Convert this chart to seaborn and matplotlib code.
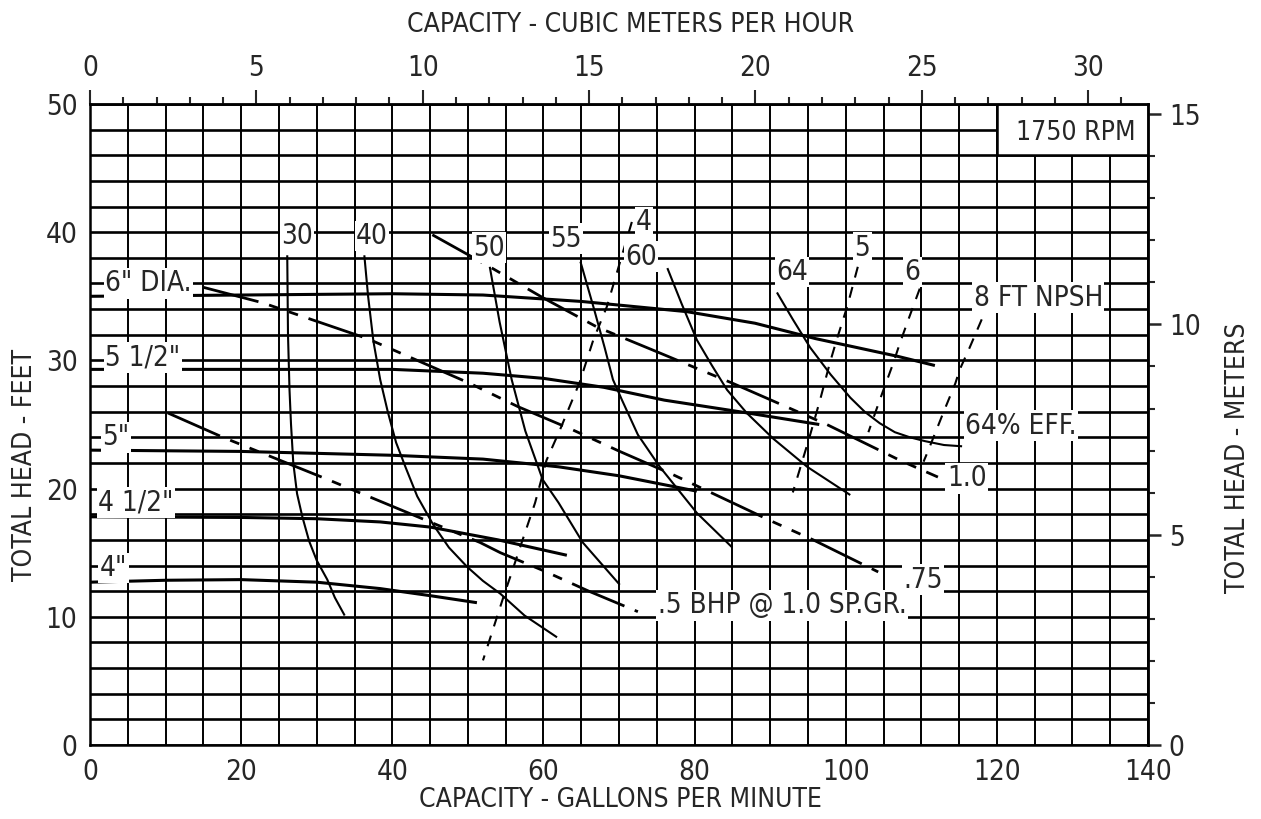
# -------------------------------------------
# импортирование библиотек
import numpy as np
import matplotlib
matplotlib.use('Agg')
import matplotlib.pyplot as plt
from matplotlib.patches import Rectangle
from matplotlib.ticker import MultipleLocator, FixedLocator
import seaborn as sns

# -------------------------------------------
# данные (подача, gpm / напор, ft)

# напорные характеристики по диаметру колеса
head_6_gpm = [0, 20, 40, 52, 65, 79, 88, 96, 107, 111.8]
head_6_ft = [35.0, 35.1, 35.2, 35.1, 34.6, 33.8, 32.9, 31.7, 30.3, 29.6]
head_55_gpm = [0, 20, 40, 52, 60, 68, 76, 87, 96.5]
head_55_ft = [29.3, 29.3, 29.3, 29.0, 28.6, 27.9, 26.9, 25.9, 25.0]
head_5_gpm = [0, 20, 40, 52, 62, 70, 80.3]
head_5_ft = [23.0, 22.9, 22.6, 22.3, 21.7, 21.0, 19.8]
head_45_gpm = [0, 20, 30, 38.4, 45, 54, 63.1]
head_45_ft = [17.8, 17.75, 17.65, 17.4, 17.0, 16.0, 14.8]
head_4_gpm = [0, 10, 20, 30, 38.4, 45, 51.2]
head_4_ft = [12.7, 12.85, 12.9, 12.7, 12.2, 11.65, 11.1]

# линии КПД
eff_30_gpm = [26.1, 26.2, 26.4, 26.6, 26.9, 27.4, 28.1, 29.0, 30.0, 31.4, 32.4, 33.7]
eff_30_ft = [38.2, 32.0, 27.7, 25.0, 22.0, 19.6, 17.8, 15.9, 14.4, 12.9, 11.5, 10.1]
eff_40_gpm = [36.3, 36.8, 37.5, 38.4, 39.4, 40.5, 41.8, 43.3, 45.4, 47.5, 49.9, 52.0, 54.3, 57.5, 61.8]
eff_40_ft = [38.2, 35.0, 31.5, 28.5, 26.0, 23.6, 21.6, 19.4, 17.2, 15.4, 13.9, 12.8, 11.8, 10.1, 8.4]
eff_50_gpm = [52.9, 54.2, 55.8, 57.6, 59.9, 62.0, 65.2, 70.1]
eff_50_ft = [37.3, 33.0, 28.5, 24.5, 20.7, 18.9, 15.8, 12.5]
eff_55_gpm = [64.9, 66.7, 68.1, 69.2, 70.4, 72.5, 75.4, 80.3, 85.0]
eff_55_ft = [37.7, 34.0, 31.0, 28.5, 26.9, 24.2, 21.7, 18.1, 15.4]
eff_60_gpm = [76.4, 78.3, 80.3, 82.3, 84.3, 86.9, 90.4, 94.9, 100.6]
eff_60_ft = [37.2, 34.4, 31.6, 29.6, 27.7, 25.9, 23.9, 21.7, 19.5]
eff_64_gpm = [90.9, 93.0, 95.3, 98.0, 100.6, 102.5, 104.5, 106.5, 108.5, 110.5, 113.0, 115.4]
eff_64_ft = [35.3, 33.2, 31.0, 28.9, 27.1, 26.0, 25.1, 24.4, 24.0, 23.7, 23.4, 23.3]

# линии мощности (BHP)
bhp_05_gpm = [10.3, 17.6, 31.5, 45.4, 51.6, 54.3, 60.0, 66.0, 72.5]
bhp_05_ft = [25.9, 24.0, 20.7, 17.3, 15.8, 15.0, 13.6, 12.0, 10.4]
bhp_075_gpm = [15.0, 22.8, 36.7, 50.3, 56.6, 63.8, 70.1, 77.1, 90.4, 95.7, 104.3]
bhp_075_ft = [35.7, 34.5, 31.7, 28.2, 26.4, 24.6, 22.9, 21.1, 17.4, 16.0, 13.5]
bhp_10_gpm = [45.3, 52.9, 59.9, 67.1, 74.5, 85.1, 97.5, 107.2, 112.2]
bhp_10_ft = [39.8, 37.3, 34.9, 32.6, 30.8, 28.2, 25.0, 22.2, 20.9]

# линии NPSH
npsh_4_gpm = [71.7, 70.1, 68.4, 66.6, 64.8, 62.2, 60.4, 58.9, 56.9, 55.6, 54.9, 52.0]
npsh_4_ft = [40.8, 37.6, 34.2, 31.6, 28.3, 24.6, 22.2, 18.9, 15.4, 13.1, 11.9, 6.6]
npsh_5_gpm = [101.6, 100.2, 98.8, 97.9, 96.6, 95.2, 93.0]
npsh_5_ft = [37.3, 34.2, 31.6, 29.8, 26.9, 24.0, 19.7]
npsh_6_gpm = [109.8, 108.3, 107.2, 106.3, 104.5, 103.0]
npsh_6_ft = [35.6, 33.2, 31.4, 29.8, 26.9, 24.4]
npsh_8_gpm = [118.0, 116.4, 115.1, 114.5, 112.9, 110.8, 110.3]
npsh_8_ft = [33.2, 31.0, 29.3, 28.2, 25.9, 22.8, 22.1]

# подписи кривых (по центру): текст, gpm, ft
label_text = ['30', '40', '50', '55', '4', '60', '64', '5', '6', '8 FT NPSH',
              '64% EFF.', '1.0', '.75', '.5 BHP @ 1.0 SP.GR.']
label_gpm = [27.4, 37.3, 52.8, 63.0, 73.3, 72.9, 92.9, 102.2, 108.8, 125.5,
             123.2, 116.0, 110.2, 91.6]
label_ft = [39.7, 39.7, 38.8, 39.5, 40.8, 38.1, 36.9, 38.8, 36.9, 34.9,
            24.9, 20.8, 12.9, 10.9]

# подписи диаметров (от левого края)
dia_text = ['6" DIA.', '5 1/2"', '5"', '4 1/2"', '4"']
dia_gpm = [2.0, 2.0, 1.6, 1.1, 1.3]
dia_ft = [36.0, 30.2, 24.0, 18.9, 13.8]

# деления дополнительных осей
top_major = [0, 5, 10, 15, 20, 25, 30]
top_minor = list(range(0, 32))
right_major = [0, 5, 10, 15]
right_minor = list(range(0, 16))

GPM_PER_M3H = 4.4029
FT_PER_M = 3.2808

# -------------------------------------------
# оформление
sns.set_style('white')
plt.rcParams['font.family'] = ['DejaVu Sans']
plt.rcParams['font.stretch'] = 'condensed'
plt.rcParams['lines.scale_dashes'] = False
plt.rcParams['axes.linewidth'] = 1.8

fig = plt.figure(figsize=(12.61, 8.19), dpi=100)
ax = fig.add_axes([90 / 1261, 74 / 819, 1058 / 1261, 641 / 819])


# функция для рисования одной кривой
def draw_curve(gpm, ft, lw, dashes=None):
    kws = dict(color='black', linewidth=lw, sort=False, estimator=None,
               ax=ax, zorder=3, solid_capstyle='butt')
    if dashes is not None:
        kws['linestyle'] = (0, dashes)
    sns.lineplot(x=gpm, y=ft, **kws)


# напорные кривые - толстые
for g, f in [(head_6_gpm, head_6_ft), (head_55_gpm, head_55_ft),
             (head_5_gpm, head_5_ft), (head_45_gpm, head_45_ft),
             (head_4_gpm, head_4_ft)]:
    draw_curve(g, f, 2.2)

# КПД - тонкие
for g, f in [(eff_30_gpm, eff_30_ft), (eff_40_gpm, eff_40_ft),
             (eff_50_gpm, eff_50_ft), (eff_55_gpm, eff_55_ft),
             (eff_60_gpm, eff_60_ft), (eff_64_gpm, eff_64_ft)]:
    draw_curve(g, f, 1.5)

# BHP - штрих длинный-короткий-короткий
bhp_dash = (41, 8, 7, 8, 7, 8)
for g, f in [(bhp_05_gpm, bhp_05_ft), (bhp_075_gpm, bhp_075_ft),
             (bhp_10_gpm, bhp_10_ft)]:
    draw_curve(g, f, 2.0, bhp_dash)

# NPSH - мелкий штрих
for g, f in [(npsh_4_gpm, npsh_4_ft), (npsh_5_gpm, npsh_5_ft),
             (npsh_6_gpm, npsh_6_ft), (npsh_8_gpm, npsh_8_ft)]:
    draw_curve(g, f, 1.5, (8, 7))

# подписи с белой подложкой
box = dict(facecolor='white', edgecolor='none', pad=1.0)
for t, g, f in zip(label_text, label_gpm, label_ft):
    ax.text(g, f, t, ha='center', va='center', fontsize=20, zorder=6, bbox=box)
for t, g, f in zip(dia_text, dia_gpm, dia_ft):
    ax.text(g, f, t, ha='left', va='center', fontsize=20, zorder=6, bbox=box)

# рамка 1750 RPM
ax.add_patch(Rectangle((120, 46), 20, 4, facecolor='white', edgecolor='black',
                       linewidth=1.8, zorder=2))
ax.text(130.5, 47.7, '1750 RPM', ha='center', va='center', fontsize=19, zorder=6)

# -------------------------------------------
# оси и сетка
ax.set_xlim(0, 140)
ax.set_ylim(0, 50)
ax.xaxis.set_major_locator(MultipleLocator(20))
ax.xaxis.set_minor_locator(MultipleLocator(5))
ax.yaxis.set_major_locator(MultipleLocator(10))
ax.yaxis.set_minor_locator(MultipleLocator(2))
ax.set_axisbelow(True)
ax.xaxis.grid(True, which='both', color='black', linewidth=1.4)
ax.yaxis.grid(True, which='both', color='black', linewidth=1.9)
ax.tick_params(which='both', length=0, labelsize=20, pad=9)
ax.set_xlabel('')
ax.set_ylabel('')
for s in ax.spines.values():
    s.set_visible(True)
    s.set_color('black')

# верхняя ось - м3/ч
top = ax.secondary_xaxis('top', functions=(lambda g: g / GPM_PER_M3H,
                                           lambda q: q * GPM_PER_M3H))
top.xaxis.set_major_locator(FixedLocator(top_major))
top.xaxis.set_minor_locator(FixedLocator(top_minor))
top.tick_params(which='major', direction='out', length=10, width=1.5,
                labelsize=20, pad=6)
top.tick_params(which='minor', direction='out', length=5, width=1.5)

# правая ось - метры
right = ax.secondary_yaxis('right', functions=(lambda f: f / FT_PER_M,
                                               lambda m: m * FT_PER_M))
right.yaxis.set_major_locator(FixedLocator(right_major))
right.yaxis.set_minor_locator(FixedLocator(right_minor))
right.tick_params(which='major', direction='out', length=9, width=1.8,
                  labelsize=20, pad=6)
right.tick_params(which='minor', direction='out', length=5, width=1.5)

# заголовки осей
fig.text(631 / 1261, 1 - 25 / 819, 'CAPACITY - CUBIC METERS PER HOUR',
         ha='center', va='center', fontsize=19)
fig.text(620 / 1261, 1 - 800 / 819, 'CAPACITY - GALLONS PER MINUTE',
         ha='center', va='center', fontsize=19)
fig.text(25 / 1261, 1 - 465 / 819, 'TOTAL HEAD - FEET', rotation=90,
         ha='center', va='center', fontsize=19)
fig.text(1238 / 1261, 1 - 458 / 819, 'TOTAL HEAD - METERS', rotation=90,
         ha='center', va='center', fontsize=19)

plt.savefig('out.png', dpi=100, facecolor='white')
